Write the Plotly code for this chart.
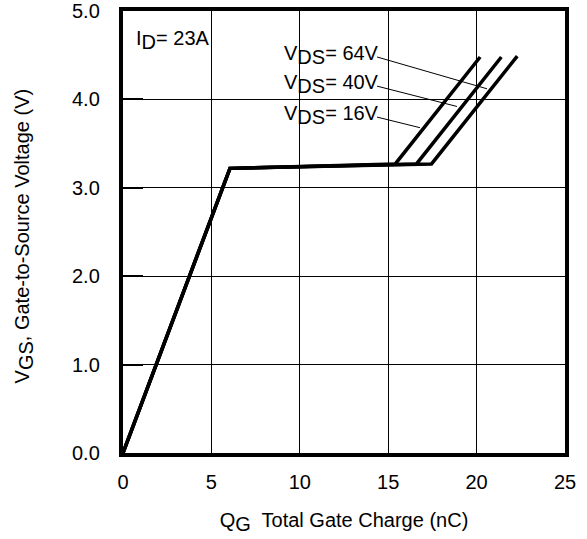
import plotly.graph_objects as go

# Gate charge curves (Q_G in nC, V_GS in V)
qg_64 = [0.0, 6.05, 15.4, 20.2]
vgs_64 = [0.0, 3.22, 3.27, 4.48]
qg_40 = [0.0, 6.05, 16.6, 21.4]
vgs_40 = [0.0, 3.22, 3.27, 4.48]
qg_16 = [0.0, 6.05, 17.45, 22.3]
vgs_16 = [0.0, 3.22, 3.27, 4.49]

# label leader lines: start (label) -> end (curve)
SUB = "<sub><span style='font-size:20px'>{}</span></sub>"
labels = ["V" + SUB.format("DS") + "= 64V",
          "V" + SUB.format("DS") + "= 40V",
          "V" + SUB.format("DS") + "= 16V"]
lead_x0 = [14.37, 14.37, 14.37]
lead_y0 = [4.48, 4.15, 3.80]
lead_x1 = [20.59, 18.89, 16.8]
lead_y1 = [4.12, 3.92, 3.68]

x_ticks = [0, 5, 10, 15, 20, 25]
y_ticks = [0.0, 1.0, 2.0, 3.0, 4.0, 5.0]

FONT = "Liberation Sans, Arial, sans-serif"
FS = 20

fig = go.Figure()
for qx, vy in [(qg_64, vgs_64), (qg_40, vgs_40), (qg_16, vgs_16)]:
    fig.add_trace(go.Scatter(x=qx, y=vy, mode="lines",
                             line=dict(color="black", width=3.5),
                             showlegend=False, hoverinfo="skip"))

for i in range(len(labels)):
    fig.add_trace(go.Scatter(x=[lead_x0[i], lead_x1[i]], y=[lead_y0[i], lead_y1[i]],
                             mode="lines", line=dict(color="black", width=1),
                             showlegend=False, hoverinfo="skip"))
    fig.add_annotation(x=lead_x0[i], y=lead_y0[i], xref="x", yref="y",
                       text=labels[i], showarrow=False, xanchor="right",
                       yanchor="middle", xshift=4, yshift=2,
                       font=dict(size=20, color="black", family=FONT))

fig.add_annotation(x=0.025, y=0.968, xref="paper", yref="paper",
                   text="I" + SUB.format("D") + "= 23A", showarrow=False,
                   xanchor="left", yanchor="top",
                   font=dict(size=20, color="black", family=FONT))

# y tick labels placed on the y scale, set off from the axis line
for v in y_ticks:
    fig.add_annotation(x=0, y=v, xref="paper", yref="y", text=f"{v:.1f}",
                       showarrow=False, xanchor="right", yanchor="middle",
                       xshift=-21, font=dict(size=FS, color="black", family=FONT))

# y axis title
fig.add_annotation(x=0, y=0.49, xref="paper", yref="paper", textangle=-90,
                   text="V" + SUB.format("GS") + ", Gate-to-Source Voltage (V)",
                   showarrow=False, xanchor="center", yanchor="middle",
                   xshift=-99, font=dict(size=FS, color="black", family=FONT))

fig.update_xaxes(range=[0, 25], tickvals=x_ticks, ticktext=[str(v) for v in x_ticks],
                 showgrid=True, gridcolor="black", gridwidth=1,
                 showline=True, linecolor="black", linewidth=3.5, mirror=True,
                 zeroline=False, ticks="", ticklabelstandoff=8, automargin=False,
                 tickfont=dict(size=FS, color="black", family=FONT),
                 title=dict(text="Q" + SUB.format("G") + "  Total Gate Charge (nC)",
                            font=dict(size=FS, color="black", family=FONT),
                            standoff=22))
fig.update_yaxes(range=[0, 5], tickvals=y_ticks, showticklabels=False,
                 showgrid=True, gridcolor="black", gridwidth=1,
                 showline=True, linecolor="black", linewidth=3.5, mirror=True,
                 zeroline=False, ticks="inside", ticklen=20, tickwidth=2, tickcolor="black",
                 automargin=False)

fig.update_layout(width=587, height=539,
                  margin=dict(l=123, r=22, t=11, b=86),
                  plot_bgcolor="white", paper_bgcolor="white")

fig.write_html("out.html", config={"displayModeBar": False},
               post_script="document.body.style.margin='0px';document.body.style.overflow='hidden';")
